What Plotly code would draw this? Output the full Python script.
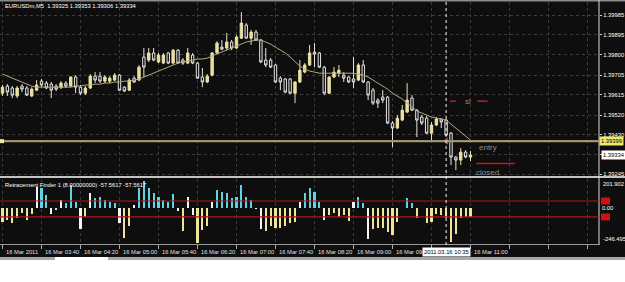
import pandas as pd
import plotly.graph_objects as go

# ---------------- data ----------------
symbol = "EURUSDm,M5"
indicator_name = "Retracement Finder 1 (8.00000000) -57.5617 -57.5617"
times = pd.date_range("2011-03-16 03:00", periods=97, freq="5min")

opens = [
    1.39622, 1.39655, 1.39646, 1.39609, 1.39655, 1.39646, 1.39609, 1.39636, 1.39678, 1.39669,
    1.39664, 1.39655, 1.39650, 1.39669, 1.39655, 1.39697, 1.39650, 1.39622, 1.39646, 1.39701,
    1.39701, 1.39678, 1.39678, 1.39683, 1.39706, 1.39650, 1.39636, 1.39692, 1.39683, 1.39790,
    1.39776, 1.39809, 1.39767, 1.39762, 1.39809, 1.39762, 1.39822, 1.39776, 1.39762, 1.39799,
    1.39762, 1.39697, 1.39674, 1.39706, 1.39809, 1.39836, 1.39832, 1.39860, 1.39832, 1.39878,
    1.39939, 1.39878, 1.39906, 1.39869, 1.39776, 1.39776, 1.39753, 1.39692, 1.39688, 1.39688,
    1.39622, 1.39674, 1.39720, 1.39753, 1.39813, 1.39809, 1.39743, 1.39622, 1.39697, 1.39715,
    1.39706, 1.39697, 1.39688, 1.39683, 1.39753, 1.39674, 1.39636, 1.39590, 1.39604, 1.39604,
    1.39483, 1.39460, 1.39497, 1.39534, 1.39599, 1.39543, 1.39511, 1.39506, 1.39436, 1.39474,
    1.39502, 1.39497, 1.39436, 1.39325, 1.39311, 1.39348, 1.39325]
highs = [
    1.39660, 1.39664, 1.39655, 1.39655, 1.39664, 1.39655, 1.39650, 1.39683, 1.39688, 1.39678,
    1.39674, 1.39664, 1.39678, 1.39678, 1.39701, 1.39706, 1.39660, 1.39655, 1.39711, 1.39720,
    1.39720, 1.39706, 1.39701, 1.39715, 1.39711, 1.39655, 1.39692, 1.39701, 1.39753, 1.39832,
    1.39832, 1.39832, 1.39809, 1.39809, 1.39813, 1.39827, 1.39827, 1.39785, 1.39832, 1.39809,
    1.39767, 1.39739, 1.39711, 1.39813, 1.39864, 1.39869, 1.39902, 1.39869, 1.39892, 1.39999,
    1.39948, 1.39916, 1.39916, 1.39874, 1.39832, 1.39785, 1.39757, 1.39701, 1.39692, 1.39692,
    1.39678, 1.39776, 1.39762, 1.39846, 1.39855, 1.39813, 1.39748, 1.39701, 1.39743, 1.39753,
    1.39720, 1.39701, 1.39790, 1.39762, 1.39776, 1.39678, 1.39646, 1.39599, 1.39636, 1.39609,
    1.39492, 1.39520, 1.39567, 1.39669, 1.39613, 1.39548, 1.39520, 1.39516, 1.39488, 1.39511,
    1.39506, 1.39502, 1.39441, 1.39330, 1.39367, 1.39357, 1.39353]
lows = [
    1.39609, 1.39609, 1.39599, 1.39599, 1.39627, 1.39609, 1.39604, 1.39632, 1.39650, 1.39641,
    1.39599, 1.39632, 1.39641, 1.39646, 1.39650, 1.39622, 1.39613, 1.39613, 1.39641, 1.39669,
    1.39669, 1.39669, 1.39669, 1.39678, 1.39632, 1.39627, 1.39632, 1.39669, 1.39678, 1.39697,
    1.39767, 1.39771, 1.39762, 1.39757, 1.39757, 1.39757, 1.39757, 1.39753, 1.39757, 1.39757,
    1.39688, 1.39650, 1.39669, 1.39701, 1.39804, 1.39822, 1.39822, 1.39822, 1.39827, 1.39874,
    1.39874, 1.39846, 1.39864, 1.39762, 1.39743, 1.39739, 1.39669, 1.39636, 1.39622, 1.39618,
    1.39576, 1.39669, 1.39715, 1.39748, 1.39743, 1.39739, 1.39613, 1.39618, 1.39692, 1.39697,
    1.39674, 1.39669, 1.39646, 1.39678, 1.39669, 1.39590, 1.39567, 1.39553, 1.39576, 1.39478,
    1.39371, 1.39455, 1.39492, 1.39530, 1.39539, 1.39418, 1.39474, 1.39432, 1.39395, 1.39469,
    1.39460, 1.39423, 1.39288, 1.39264, 1.39288, 1.39320, 1.39306]
closes = [
    1.39650, 1.39627, 1.39613, 1.39646, 1.39641, 1.39613, 1.39641, 1.39660, 1.39660, 1.39646,
    1.39636, 1.39641, 1.39669, 1.39655, 1.39697, 1.39650, 1.39622, 1.39646, 1.39701, 1.39683,
    1.39678, 1.39697, 1.39692, 1.39706, 1.39636, 1.39632, 1.39683, 1.39674, 1.39743, 1.39743,
    1.39809, 1.39776, 1.39799, 1.39799, 1.39762, 1.39822, 1.39762, 1.39762, 1.39809, 1.39762,
    1.39692, 1.39674, 1.39701, 1.39809, 1.39855, 1.39827, 1.39860, 1.39832, 1.39883, 1.39948,
    1.39878, 1.39906, 1.39869, 1.39767, 1.39753, 1.39743, 1.39674, 1.39674, 1.39627, 1.39622,
    1.39674, 1.39729, 1.39753, 1.39809, 1.39804, 1.39743, 1.39622, 1.39697, 1.39720, 1.39729,
    1.39692, 1.39674, 1.39674, 1.39753, 1.39674, 1.39613, 1.39576, 1.39576, 1.39590, 1.39483,
    1.39460, 1.39506, 1.39543, 1.39590, 1.39543, 1.39497, 1.39483, 1.39436, 1.39474, 1.39502,
    1.39488, 1.39427, 1.39325, 1.39311, 1.39348, 1.39325, 1.39334]
ma = [
    1.39711, 1.39701, 1.39692, 1.39683, 1.39674, 1.39664, 1.39655, 1.39650, 1.39650, 1.39650,
    1.39650, 1.39650, 1.39650, 1.39650, 1.39650, 1.39655, 1.39655, 1.39660, 1.39660, 1.39664,
    1.39664, 1.39669, 1.39669, 1.39674, 1.39674, 1.39678, 1.39678, 1.39683, 1.39688, 1.39697,
    1.39706, 1.39715, 1.39725, 1.39734, 1.39743, 1.39753, 1.39762, 1.39767, 1.39771, 1.39776,
    1.39781, 1.39781, 1.39785, 1.39795, 1.39804, 1.39813, 1.39822, 1.39832, 1.39841, 1.39850,
    1.39860, 1.39864, 1.39869, 1.39869, 1.39860, 1.39850, 1.39836, 1.39822, 1.39809, 1.39790,
    1.39767, 1.39748, 1.39734, 1.39725, 1.39720, 1.39715, 1.39715, 1.39715, 1.39715, 1.39715,
    1.39715, 1.39715, 1.39715, 1.39711, 1.39706, 1.39697, 1.39683, 1.39669, 1.39655, 1.39641,
    1.39622, 1.39609, 1.39595, 1.39576, 1.39557, 1.39539, 1.39530, 1.39520, 1.39511, 1.39506,
    1.39502, 1.39497, 1.39478, 1.39460, 1.39441, 1.39423, 1.39404]
ind_values = [
    -98, -84, -105, -70, -35, -84, -42, 147, 140, 91,
    -42, -10, 56, 35, 161, 42, -140, -63, 105, 70,
    77, 56, 42, 35, -105, -203, -119, 21, 140, 189,
    140, 105, 77, 56, 42, 98, -21, -154, 77, -49,
    -238, -150, -119, 42, 126, 112, 105, 70, 77, 161,
    77, 56, -7, -140, -154, -119, -133, -133, -119, -105,
    -98, 42, 105, 140, 112, 42, -84, -49, -35, -63,
    -49, -91, 42, 77, 35, -210, -140, -133, -133, -165,
    -182, -98, 5, 70, 35, -70, 5, -105, -98, -42,
    -49, -70, -231, -175, -70, -63, -57.56]
ind_colors = [
    "Y", "Y", "Y", "Y", "Y", "Y", "Y", "W", "C", "C",
    "W", "Y", "W", "C", "C", "C", "W", "Y", "W", "C",
    "C", "C", "C", "C", "W", "Y", "Y", "W", "C", "C",
    "C", "C", "C", "C", "C", "C", "W", "Y", "W", "W",
    "Y", "Y", "Y", "W", "C", "C", "C", "C", "C", "C",
    "C", "C", "W", "W", "Y", "Y", "Y", "Y", "Y", "Y",
    "Y", "W", "C", "C", "C", "C", "W", "Y", "Y", "Y",
    "Y", "Y", "W", "C", "C", "W", "Y", "Y", "Y", "Y",
    "Y", "Y", "Y", "C", "C", "Y", "W", "Y", "Y", "Y",
    "Y", "Y", "Y", "Y", "Y", "Y", "Y"]
ind_levels = [50, -60]
ind_max, ind_min = 201.902, -246.495

price_ticks = [1.39985, 1.39895, 1.39800, 1.39705, 1.39615, 1.39520, 1.39430, 1.39338, 1.39245]
price_tick_text = ["1.39985", "1.39895", "1.39800", "1.39705", "1.39615", "1.39520", "1.39430", "", "1.39245"]
price_min, price_max = 1.39237, 1.40046

time_label_times = ["2011-03-16 03:00", "2011-03-16 03:40", "2011-03-16 04:20", "2011-03-16 05:00",
                    "2011-03-16 05:40", "2011-03-16 06:20", "2011-03-16 07:00", "2011-03-16 07:40",
                    "2011-03-16 08:20", "2011-03-16 09:00", "2011-03-16 09:40", "2011-03-16 10:20",
                    "2011-03-16 11:00"]
time_labels = ["16 Mar 2011", "16 Mar 03:40", "16 Mar 04:20", "16 Mar 05:00", "16 Mar 05:40",
               "16 Mar 06:20", "16 Mar 07:00", "16 Mar 07:40", "16 Mar 08:20", "16 Mar 09:00",
               "16 Mar 09:4", "", "16 Mar 11:00"]
cursor_time = "2011-03-16 10:35"
cursor_label = "2011.03.16 10:35"

entry_price = 1.39399
sl_price = 1.39585
closed_price = 1.39295

# ---------------- layout helpers ----------------
W, H = 625, 282
def py(p):
    return 1 - p / H
def px(p):
    return p / W

XR = 599 / W
FONT = "Liberation Sans, Arial, sans-serif"
FS = 5.8
t0 = times[0]
x_range = [t0 - pd.Timedelta(minutes=2.56), t0 + pd.Timedelta(minutes=611.8)]
dtick_ms = 40 * 60 * 1000
GRID = "#3c3c3c"
BG = "#0e0e0e"

YEL = "#ecdf92"
cmap = {"Y": "#ece49a", "C": "#5fd3e2", "W": "#f4f4f4"}

fig = go.Figure()
fig.add_trace(go.Candlestick(
    x=times, open=opens, high=highs, low=lows, close=closes,
    increasing=dict(line=dict(color="#ebe2ac", width=1), fillcolor=YEL),
    decreasing=dict(line=dict(color="#e4e4e4", width=1), fillcolor=BG),
    whiskerwidth=0, showlegend=False, hoverinfo="skip", xaxis="x", yaxis="y"))
fig.add_trace(go.Scatter(x=times, y=ma, mode="lines", line=dict(color="#b6a87c", width=1),
                         showlegend=False, hoverinfo="skip", xaxis="x", yaxis="y"))
fig.add_trace(go.Scatter(x=[cursor_time], y=[entry_price], mode="markers",
                         marker=dict(symbol="triangle-left-open", size=5, color="#e05050",
                                     line=dict(width=1, color="#e05050")),
                         showlegend=False, hoverinfo="skip", xaxis="x", yaxis="y"))
fig.add_trace(go.Bar(x=times, y=ind_values, marker=dict(color=[cmap[c] for c in ind_colors], line=dict(width=0)),
                     width=0.42 * 5 * 60 * 1000, showlegend=False, hoverinfo="skip",
                     xaxis="x2", yaxis="y2"))

axis_common = dict(type="date", range=x_range, tickmode="linear", tick0=t0, dtick=dtick_ms,
                   showgrid=True, gridcolor=GRID, griddash="dot", gridwidth=1,
                   zeroline=False, showticklabels=False, showline=False,
                   domain=[0, XR], fixedrange=True, rangeslider=dict(visible=False))

fig.update_layout(
    width=W, height=H, margin=dict(l=0, r=0, t=0, b=0, pad=0),
    paper_bgcolor="#ffffff", plot_bgcolor=BG,
    font=dict(family=FONT, size=FS, color="#ffffff"),
    bargap=0, showlegend=False,
    xaxis=dict(**axis_common, anchor="y", ticks=""),
    xaxis2=dict(**axis_common, anchor="y2", matches="x", ticks="outside", ticklen=4,
                tickcolor="#b0b0b0", tickwidth=1),
    yaxis=dict(domain=[py(176), py(2)], range=[price_min, price_max], side="right",
               tickmode="array", tickvals=price_ticks, ticktext=price_tick_text,
               showgrid=True, gridcolor=GRID, griddash="dot", zeroline=False,
               ticks="outside", ticklen=2, tickcolor="#d0d0d0",
               tickfont=dict(size=FS, color="#ffffff", family=FONT), anchor="x", fixedrange=True),
    yaxis2=dict(domain=[py(244), py(179)], range=[ind_min, ind_max], side="right",
                showgrid=False, zeroline=False, showticklabels=False, ticks="", anchor="x2",
                fixedrange=True),
)

shapes = []
# black chart canvas
shapes.append(dict(type="rect", xref="paper", yref="paper", x0=0, x1=1, y0=py(257), y1=1,
                   fillcolor=BG, line=dict(width=0), layer="below"))
# gray strip and tab
shapes.append(dict(type="rect", xref="paper", yref="paper", x0=0, x1=1, y0=py(260), y1=py(257),
                   fillcolor="#a8a8a8", line=dict(width=0)))
shapes.append(dict(type="rect", xref="paper", yref="paper", x0=px(55), x1=px(108), y0=py(260), y1=py(257),
                   fillcolor="#ffffff", line=dict(width=0)))
# frame lines
shapes.append(dict(type="line", xref="paper", yref="paper", x0=0, x1=1, y0=py(0.8), y1=py(0.8),
                   line=dict(color="#8a8a8a", width=1.5)))
shapes.append(dict(type="line", xref="paper", yref="paper", x0=0, x1=1, y0=py(177), y1=py(177),
                   line=dict(color="#c4c4c4", width=2)))
shapes.append(dict(type="line", xref="paper", yref="paper", x0=0, x1=XR, y0=py(244.5), y1=py(244.5),
                   line=dict(color="#9a9a9a", width=1)))
shapes.append(dict(type="line", xref="paper", yref="paper", x0=XR, x1=XR, y0=py(245), y1=py(0),
                   line=dict(color="#d8d8d8", width=1)))
# entry horizontal line
shapes.append(dict(type="line", xref="paper", yref="y", x0=0, x1=XR, y0=entry_price, y1=entry_price,
                   line=dict(color="#8a8560", width=2.2)))
shapes.append(dict(type="line", xref="paper", yref="y", x0=0, x1=XR, y0=entry_price, y1=entry_price,
                   line=dict(color="#b9b185", width=0.8)))
shapes.append(dict(type="rect", xref="paper", yref="y", xsizemode="pixel", ysizemode="pixel",
                   xanchor=0, x0=0, x1=4, yanchor=entry_price, y0=-2, y1=2,
                   fillcolor="#efe7a8", line=dict(width=0)))
# sl / closed red segments
for a, b, lvl in [("2011-03-16 10:39", "2011-03-16 10:45", sl_price),
                  ("2011-03-16 11:07", "2011-03-16 11:17:30", sl_price),
                  ("2011-03-16 11:06", "2011-03-16 11:45:30", closed_price)]:
    shapes.append(dict(type="line", xref="x", yref="y", x0=a, x1=b, y0=lvl, y1=lvl,
                       line=dict(color="#b82020", width=1.5)))
# indicator levels
for lvl in ind_levels:
    shapes.append(dict(type="line", xref="paper", yref="y2", x0=0, x1=XR, y0=lvl, y1=lvl,
                       line=dict(color="#a81818", width=1.2)))
    shapes.append(dict(type="rect", xref="paper", yref="y2", xsizemode="pixel", ysizemode="pixel",
                       xanchor=XR, x0=2, x1=11, yanchor=lvl, y0=-3.5, y1=3.5,
                       fillcolor="#d01010", line=dict(width=0)))
# cursor vertical dotted line
shapes.append(dict(type="line", xref="x", yref="paper", x0=cursor_time, x1=cursor_time,
                   y0=py(245), y1=py(2), line=dict(color="#f0f0f0", width=1, dash="dot")))
fig.update_layout(shapes=shapes)

ann = []
ann.append(dict(text=f"{symbol}\u00a0\u00a0{opens[-1]:.5f} {highs[-1]:.5f} {lows[-1]:.5f} {closes[-1]:.5f}",
                xref="paper", yref="paper", x=px(3), y=py(6), xanchor="left", yanchor="middle",
                showarrow=False, font=dict(size=FS, color="#ffffff", family=FONT)))
ann.append(dict(text=indicator_name, xref="paper", yref="paper", x=px(3), y=py(185),
                xanchor="left", yanchor="middle", showarrow=False,
                font=dict(size=FS, color="#ffffff", family=FONT)))
# price label boxes
ann.append(dict(text=f"{entry_price:.5f}", xref="paper", yref="y", x=XR, y=entry_price,
                xanchor="left", yanchor="middle", showarrow=False, bgcolor="#efe66e",
                borderpad=1, font=dict(size=FS, color="#000000", family=FONT)))
ann.append(dict(text=f"{closes[-1]:.5f}", xref="paper", yref="y", x=XR, y=closes[-1],
                xanchor="left", yanchor="middle", showarrow=False, bgcolor="#ffffff",
                borderpad=1, xshift=2, font=dict(size=FS, color="#000000", family=FONT)))
# indicator scale labels
for v, txt, anc in [(ind_max, "201.902", "top"), (0, "0.00", "middle"), (ind_min, "-246.495", "bottom")]:
    ann.append(dict(text=txt, xref="paper", yref="y2", x=XR, y=v, xanchor="left", yanchor=anc,
                    xshift=2 if txt != "0.00" else 1, showarrow=False,
                    font=dict(size=FS, color="#ffffff", family=FONT)))
# trade texts
for txt, t, lvl in [("sl", "2011-03-16 10:52:30", sl_price), ("entry", "2011-03-16 11:06:30", 1.39371),
                    ("closed", "2011-03-16 11:03:30", 1.39251)]:
    ann.append(dict(text=txt, xref="x", yref="y", x=t, y=lvl, xanchor="left", yanchor="middle",
                    showarrow=False, font=dict(size=8, color="#8e8e8e", family=FONT)))
# time labels
for t, txt in zip(time_label_times, time_labels):
    if not txt:
        continue
    ann.append(dict(text=txt, xref="x2", yref="paper", x=t, y=py(252), xanchor="left",
                    yanchor="middle", xshift=1, showarrow=False,
                    font=dict(size=FS, color="#e0e0e0", family=FONT)))
ann.append(dict(text=cursor_label, xref="x2", yref="paper", x=cursor_time, y=py(252),
                xanchor="center", yanchor="middle", showarrow=False, bgcolor="#ffffff",
                borderpad=1, font=dict(size=FS, color="#000000", family=FONT)))
fig.update_layout(annotations=ann)

fig.write_html("out.html", config={"displayModeBar": False, "staticPlot": True})
